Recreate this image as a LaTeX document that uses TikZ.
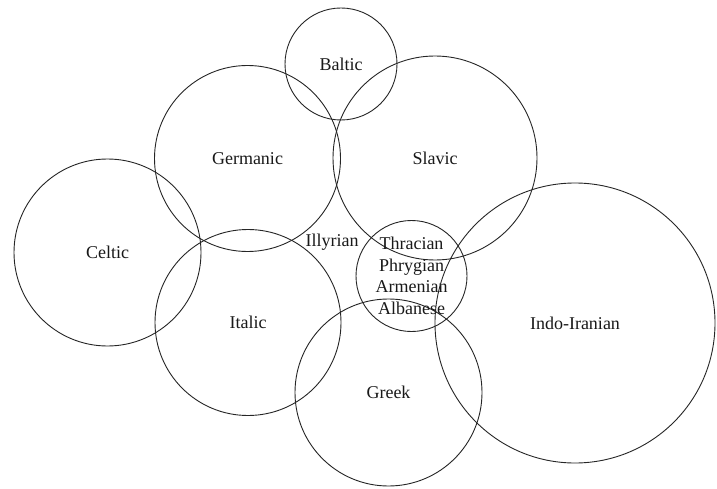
\documentclass[tikz,border=0pt]{standalone}
\usepackage{fontspec}
\setmainfont{Liberation Serif}
\begin{document}
\begin{tikzpicture}[x=1pt,y=-1pt,
  langcircle/.style={circle,draw=black!85,line width=0.9pt,inner sep=0pt,
    text=black!90,font=\fontsize{18}{21.5}\selectfont,align=center},
  langlabel/.style={inner sep=0pt,text=black!90,font=\fontsize{18}{21.5}\selectfont}]
\useasboundingbox[fill=white] (0,0) rectangle (717,489);
\node[langcircle,minimum size=112] (baltic) at (341,64) {Baltic};
\node[langcircle,minimum size=186] (germanic) at (247.5,158.5) {Germanic};
\node[langcircle,minimum size=204] (slavic) at (435,158) {Slavic};
\node[langcircle,minimum size=187] (celtic) at (107.5,252.5) {Celtic};
\node[langcircle,minimum size=186] (italic) at (248,322.5) {Italic};
\node[langcircle,minimum size=111] (thracian) at (411.5,276) {Thracian\\Phrygian\\Armenian\\Albanese};
\node[langcircle,minimum size=187] (greek) at (388.5,392.5) {Greek};
\node[langcircle,minimum size=280] (indoiranian) at (575,323) {Indo-Iranian};
\node[langlabel] (illyrian) at (332,242) {Illyrian};
\end{tikzpicture}
\end{document}
